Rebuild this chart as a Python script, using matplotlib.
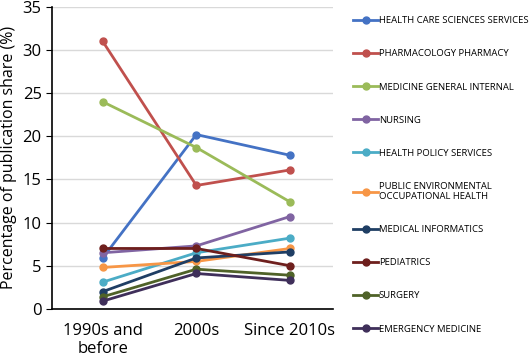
import matplotlib.pyplot as plt

periods = ['1990s and\nbefore', '2000s', 'Since 2010s']

health_care = [5.9, 20.2, 17.8]
pharmacology = [31.0, 14.3, 16.1]
medicine_gi = [24.0, 18.7, 12.4]
nursing = [6.5, 7.3, 10.7]
health_policy = [3.1, 6.5, 8.2]
public_env = [4.8, 5.5, 7.0]
med_informatics = [2.0, 5.9, 6.6]
pediatrics = [7.0, 7.0, 5.0]
surgery = [1.4, 4.6, 3.9]
emergency = [0.9, 4.1, 3.3]

series = [
    ('HEALTH CARE SCIENCES SERVICES', health_care, '#4472C4'),
    ('PHARMACOLOGY PHARMACY', pharmacology, '#C0504D'),
    ('MEDICINE GENERAL INTERNAL', medicine_gi, '#9BBB59'),
    ('NURSING', nursing, '#8064A2'),
    ('HEALTH POLICY SERVICES', health_policy, '#4BACC6'),
    ('PUBLIC ENVIRONMENTAL\nOCCUPATIONAL HEALTH', public_env, '#F79646'),
    ('MEDICAL INFORMATICS', med_informatics, '#1F3E64'),
    ('PEDIATRICS', pediatrics, '#6E1F1D'),
    ('SURGERY', surgery, '#4F6228'),
    ('EMERGENCY MEDICINE', emergency, '#3F2F5A'),
]

plt.rcParams['font.family'] = ['Open Sans', 'DejaVu Sans']

fig = plt.figure(figsize=(5.32, 3.6), dpi=100)
ax = fig.add_axes([0.098, 0.142, 0.528, 0.839])

x = range(len(periods))
for name, vals, col in series:
    ax.plot(x, vals, color=col, lw=2, marker='o', ms=5, label=name)

ax.set_xlim(-0.54, 2.46)
ax.set_ylim(0, 35)
ax.set_yticks(range(0, 36, 5))
ax.set_xticks(list(x))
ax.set_xticklabels(periods, fontsize=12)
ax.tick_params(axis='y', labelsize=12, length=4)
ax.tick_params(axis='x', length=0, pad=10)
ax.yaxis.grid(True, color='#D9D9D9', lw=1)
ax.set_axisbelow(True)
for s in ['top', 'right']:
    ax.spines[s].set_visible(False)
ax.spines['left'].set_linewidth(1.2)
ax.spines['bottom'].set_linewidth(1.2)
ax.set_ylabel('Percentage of publication share (%)', fontsize=11.5)

fig.legend(loc='upper left', bbox_to_anchor=(0.657, 0.965), frameon=False,
           fontsize=6.8, labelspacing=2.55, handlelength=2.6, handletextpad=0.1,
           borderaxespad=0)

fig.savefig('out.png', dpi=100)
